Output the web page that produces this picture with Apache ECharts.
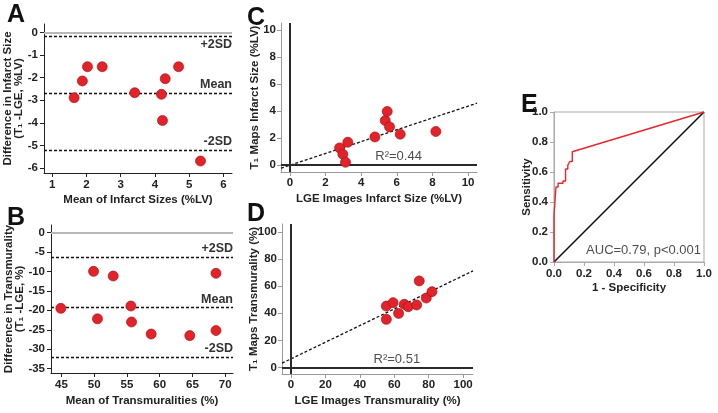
<!DOCTYPE html>
<html><head><meta charset="utf-8">
<script src="https://cdn.jsdelivr.net/npm/echarts@6/dist/echarts.min.js"></script>
<style>html,body{margin:0;padding:0;background:#fff}#c{width:718px;height:413px}</style>
</head><body><div id="c"></div>
<script>
// Panel A: Bland-Altman infarct size
var aMeanX = [1.64, 1.88, 2.03, 2.46, 3.41, 4.19, 4.30, 4.22, 4.69, 5.33];
var aDiffY = [-2.89, -2.15, -1.52, -1.52, -2.67, -2.74, -2.05, -3.90, -1.52, -5.69];
var aLineVals = [-0.15, -2.69, -5.21];
var aXTicks = [1, 2, 3, 4, 5, 6];
var aYTicks = [0, -1, -2, -3, -4, -5, -6];
// Panel B: Bland-Altman transmurality
var bMeanX = [44.9, 49.9, 52.9, 68.6, 50.5, 55.6, 55.7, 58.7, 64.6, 68.6];
var bDiffY = [-19.5, -10.0, -11.2, -10.5, -22.2, -18.9, -23.0, -26.1, -26.5, -25.2];
var bLineVals = [-6.3, -19.3, -32.1];
var bXTicks = [45, 50, 55, 60, 65, 70];
var bYTicks = [0, -5, -10, -15, -20, -25, -30, -35];
var sdLabels = ['+2SD', 'Mean', '-2SD'];
// Panel C: infarct size correlation
var cX = [2.79, 2.97, 3.12, 3.25, 4.77, 5.35, 5.46, 5.59, 6.19, 8.19];
var cY = [1.28, 0.81, 0.22, 1.70, 2.09, 3.30, 3.97, 2.83, 2.29, 2.49];
var cFitX = [-0.5, 10.5];
var cFitY = [-0.22, 4.58];
var cTicks = [0, 2, 4, 6, 8, 10];
// Panel D: transmurality correlation
var dX = [55.4, 55.4, 59.3, 62.5, 65.8, 68.1, 73.0, 74.5, 78.6, 81.9];
var dY = [35.5, 45.3, 47.8, 39.9, 46.6, 44.8, 46.1, 63.8, 51.2, 55.9];
var dFitX = [-5.25, 105.75];
var dFitY = [3.2, 71.2];
var dTicks = [0, 20, 40, 60, 80, 100];
// Panel E: ROC
var rocX = [0, 0, 0.013, 0.013, 0.027, 0.027, 0.06, 0.06, 0.077, 0.077, 0.092, 0.092, 0.105, 0.105, 0.122, 0.122, 1];
var rocY = [0, 0.31, 0.31, 0.50, 0.50, 0.525, 0.525, 0.54, 0.54, 0.62, 0.62, 0.645, 0.645, 0.67, 0.67, 0.735, 1];
var diagX = [0, 1];
var diagY = [0, 1];
var eTicks = [0, 0.2, 0.4, 0.6, 0.8, 1.0];

var FF = '"Liberation Sans", Arial, sans-serif';
var RED = '#e3232a';
function zip(a, b) { return a.map(function (v, i) { return [v, b[i]]; }); }

function valAxis(o) {
  var ax = {
    type: 'value', gridIndex: o.grid, min: o.min, max: o.max,
    name: o.name, nameLocation: 'middle', nameGap: o.nameGap, nameMoveOverlap: false,
    nameTextStyle: { fontFamily: FF, fontWeight: 'bold', fontSize: 11.5, color: '#222', lineHeight: o.lh || 13 },
    axisLine: { show: true, onZero: false, lineStyle: { color: o.lineColor || '#222', width: 1 } },
    axisTick: { show: true, inside: false, length: 4, customValues: o.ticks, lineStyle: { color: o.lineColor || '#222' } },
    axisLabel: { customValues: o.ticks, margin: o.margin || 6, fontFamily: FF, fontWeight: 'bold', fontSize: 11.5, color: '#222',
      formatter: o.fmt || function (v) { return String(v); } },
    splitLine: { show: false }
  };
  if (o.rotate) ax.nameRotate = 90;
  return ax;
}

function sdMarkLine(vals, positions) {
  var data = [{ yAxis: 0, lineStyle: { type: 'solid', color: '#b8b8b8', width: 2 }, label: { show: false } }];
  vals.forEach(function (v, i) {
    data.push({ yAxis: v, lineStyle: { type: [3, 2], color: '#111', width: 1.3 },
      label: { show: true, position: positions[i], formatter: sdLabels[i], fontFamily: FF, fontWeight: 'bold', fontSize: 12.5, color: '#333', distance: [0, 2] } });
  });
  return { silent: true, symbol: 'none', animation: false, data: data };
}

function zeroMarkLine() {
  return { silent: true, symbol: 'none', animation: false,
    lineStyle: { type: 'solid', color: '#2a2a2a', width: 2 }, label: { show: false },
    data: [{ xAxis: 0 }, { yAxis: 0 }] };
}

var scatterStyle = { color: RED, opacity: 1, borderColor: '#a8141a', borderWidth: 0.7 };
function gridBox(l, t, w, h, extra) {
  var g = { left: l, top: t, width: w, height: h, containLabel: false, outerBoundsMode: 'none' };
  if (extra) for (var k in extra) g[k] = extra[k];
  return g;
}

var option = {
  animation: false,
  textStyle: { fontFamily: FF },
  grid: [
    gridBox(44, 24, 188, 149),
    gridBox(51, 225, 182, 148),
    gridBox(281, 23, 196, 149),
    gridBox(282, 224, 191, 150),
    gridBox(554, 112, 150, 150, { show: true, borderColor: '#aaa', borderWidth: 1 })
  ],
  xAxis: [
    valAxis({ grid: 0, min: 0.76, max: 6.25, ticks: aXTicks, name: 'Mean of Infarct Sizes (%LV)', nameGap: 20 }),
    valAxis({ grid: 1, min: 43.4, max: 71.2, ticks: bXTicks, name: 'Mean of Transmuralities (%)', nameGap: 21 }),
    valAxis({ grid: 2, min: -0.5, max: 10.5, ticks: cTicks, name: 'LGE Images Infarct Size (%LV)', nameGap: 20, lineColor: '#999', margin: 5 }),
    valAxis({ grid: 3, min: -5.25, max: 105.75, ticks: dTicks, name: 'LGE Images Transmurality (%)', nameGap: 20, lineColor: '#999', margin: 5 }),
    valAxis({ grid: 4, min: 0, max: 1, ticks: eTicks, name: '1 - Specificity', nameGap: 19, lineColor: '#aaa', fmt: function (v) { return v.toFixed(1); } })
  ],
  yAxis: [
    valAxis({ grid: 0, min: -6.22, max: 0.37, ticks: aYTicks, name: 'Difference in Infarct Size\n(T\u2081 -LGE, %LV)', nameGap: 20, lh: 10.5, rotate: true }),
    valAxis({ grid: 1, min: -36.1, max: 1.9, ticks: bYTicks, name: 'Difference in Transmurality\n(T\u2081 -LGE, %)', nameGap: 26, lh: 10.5, rotate: true }),
    valAxis({ grid: 2, min: -0.5, max: 10.5, ticks: cTicks, name: 'T\u2081 Maps Infarct Size (%LV)', nameGap: 20, rotate: true, lineColor: '#999', margin: 5 }),
    valAxis({ grid: 3, min: -4.75, max: 105.75, ticks: dTicks, name: 'T\u2081 Maps Transmurality (%)', nameGap: 22, rotate: true, lineColor: '#999', margin: 5 }),
    valAxis({ grid: 4, min: 0, max: 1, ticks: eTicks, name: 'Sensitivity', nameGap: 21, rotate: true, lineColor: '#aaa', fmt: function (v) { return v.toFixed(1); } })
  ],
  series: [
    { type: 'scatter', xAxisIndex: 0, yAxisIndex: 0, data: zip(aMeanX, aDiffY), symbolSize: 10, itemStyle: scatterStyle,
      markLine: sdMarkLine(aLineVals, ['insideEndBottom', 'insideEndTop', 'insideEndTop']), z: 5 },
    { type: 'scatter', xAxisIndex: 1, yAxisIndex: 1, data: zip(bMeanX, bDiffY), symbolSize: 10, itemStyle: scatterStyle,
      markLine: sdMarkLine(bLineVals, ['insideEndTop', 'insideEndTop', 'insideEndTop']), z: 5 },
    { type: 'line', xAxisIndex: 2, yAxisIndex: 2, data: zip(cFitX, cFitY), symbol: 'none', lineStyle: { color: '#111', width: 1.3, type: [3, 2] }, markLine: zeroMarkLine(), z: 2 },
    { type: 'scatter', xAxisIndex: 2, yAxisIndex: 2, data: zip(cX, cY), symbolSize: 10, itemStyle: scatterStyle, z: 5 },
    { type: 'line', xAxisIndex: 3, yAxisIndex: 3, data: zip(dFitX, dFitY), symbol: 'none', lineStyle: { color: '#111', width: 1.3, type: [3, 2] }, markLine: zeroMarkLine(), z: 2 },
    { type: 'scatter', xAxisIndex: 3, yAxisIndex: 3, data: zip(dX, dY), symbolSize: 10, itemStyle: scatterStyle, z: 5 },
    { type: 'line', xAxisIndex: 4, yAxisIndex: 4, data: zip(diagX, diagY), symbol: 'none', lineStyle: { color: '#111', width: 1.6 }, z: 2 },
    { type: 'line', xAxisIndex: 4, yAxisIndex: 4, data: zip(rocX, rocY), symbol: 'none', lineStyle: { color: '#e8262c', width: 1.4 }, z: 3 },
    // text annotations anchored in data coordinates
    { type: 'scatter', xAxisIndex: 2, yAxisIndex: 2, symbolSize: 0, silent: true, z: 6,
      data: [[6.1, 0.15]], label: { show: true, position: 'top', distance: 0, formatter: 'R\u00b2=0.44', fontFamily: FF, fontSize: 13, color: '#222' } },
    { type: 'scatter', xAxisIndex: 3, yAxisIndex: 3, symbolSize: 0, silent: true, z: 6,
      data: [[61.5, 1.5]], label: { show: true, position: 'top', distance: 0, formatter: 'R\u00b2=0.51', fontFamily: FF, fontSize: 13, color: '#222' } },
    { type: 'scatter', xAxisIndex: 4, yAxisIndex: 4, symbolSize: 0, silent: true, z: 6,
      data: [[0.98, 0.08]], label: { show: true, position: 'left', distance: 0, formatter: 'AUC=0.79, p<0.001', fontFamily: FF, fontSize: 13, color: '#222' } }
  ],
  graphic: [
    { type: 'text', left: 7, top: 3, style: { text: 'A', font: 'bold 25px ' + FF, fill: '#111' } },
    { type: 'text', left: 7, top: 206, style: { text: 'B', font: 'bold 25px ' + FF, fill: '#111' } },
    { type: 'text', left: 247, top: 6, style: { text: 'C', font: 'bold 25px ' + FF, fill: '#111' } },
    { type: 'text', left: 247, top: 202, style: { text: 'D', font: 'bold 25px ' + FF, fill: '#111' } },
    { type: 'text', left: 521, top: 93, style: { text: 'E', font: 'bold 25px ' + FF, fill: '#111' } }
  ]
};
var chart = echarts.init(document.getElementById('c'), null, { renderer: 'canvas' });
chart.setOption(option);
</script>
</body></html>
